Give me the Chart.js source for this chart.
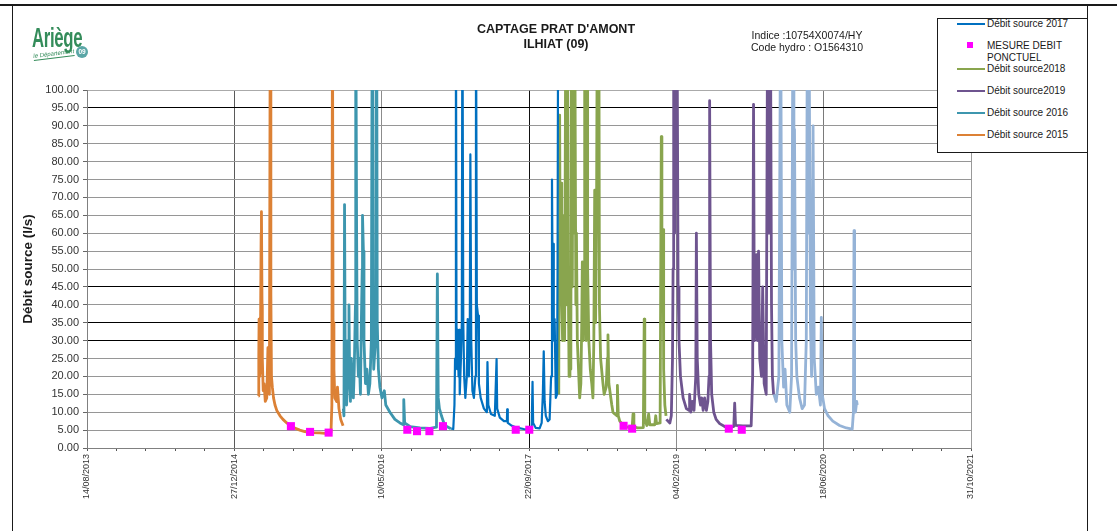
<!DOCTYPE html>
<html lang="fr">
<head>
<meta charset="utf-8">
<title>Captage Prat d'Amont - Ilhiat (09)</title>
<script src="https://cdn.jsdelivr.net/npm/chart.js@4.4.1/dist/chart.umd.min.js"></script>
<style>
  html, body { margin: 0; padding: 0; background: #fff; }
  body { font-family: "Liberation Sans", Arial, sans-serif; color: #1a1a1a; }
  #page { position: relative; width: 1117px; height: 531px; overflow: hidden; }
  #chart { position: absolute; left: 0; top: 0; }
  .frame { position: absolute; background: #1a1a1a; }
  #title { position: absolute; left: 456px; top: 22px; width: 200px; text-align: center;
           font-weight: bold; font-size: 12.5px; line-height: 15px; }
  #ref { position: absolute; left: 732px; top: 29px; width: 150px; text-align: center;
         font-size: 10.5px; line-height: 12px; }
  #legend { position: absolute; left: 937px; top: 18px; width: 149px; height: 133px;
            border: 1px solid #1a1a1a; background: #fff; font-size: 10px; line-height: 12px; }
  #legend .sample { position: absolute; left: 19px; width: 28px; height: 2px; }
  #legend .marker { position: absolute; left: 29px; width: 6px; height: 6px; }
  #legend .text { position: absolute; left: 49px; white-space: nowrap; }
  #logo .ariege { position: absolute; left: 32px; top: 25px; font-size: 27px; line-height: 27px;
                  font-weight: bold; color: #348c5a; transform: scaleX(0.62); transform-origin: left top;
                  letter-spacing: -0.5px; }
  #logo .dept { position: absolute; left: 33px; top: 53px; font-size: 6px; font-style: italic;
                color: #348c5a; transform: rotate(-7deg); transform-origin: left top;
                border-bottom: 1px solid #348c5a; padding-bottom: 1px; }
  #logo .badge { position: absolute; left: 76px; top: 46px; width: 12px; height: 12px; border-radius: 50%;
                 background: #5aa6a6; color: #fff; font-size: 6.5px; font-weight: bold;
                 line-height: 12px; text-align: center; }
</style>
</head>
<body>
<div id="page">
  <canvas id="chart" width="1117" height="531"></canvas>
  <div class="frame" style="left:0;top:4px;width:1117px;height:2px"></div>
  <div class="frame" style="left:12px;top:5px;width:1px;height:526px"></div>
  <div class="frame" style="left:1087px;top:5px;width:1px;height:526px"></div>
  <div id="logo">
    <div class="ariege">Ariège</div>
    <div class="dept">le Département</div>
    <div class="badge">09</div>
  </div>
  <div id="title">CAPTAGE PRAT D'AMONT<br>ILHIAT (09)</div>
  <div id="ref">Indice :10754X0074/HY<br>Code hydro : O1564310</div>
  <div id="legend"></div>
</div>
<script>
// axis
const axisStart = '2013-08-14';
const axisEnd = '2021-10-31';
const tickEveryDays = 100;
const labelEvery = 5;
const yMin = 0, yMax = 100, yStep = 5;

// débit source (l/s), one array pair per year
const dates2015 = ['2015-03-19','2015-03-20','2015-03-21','2015-03-23','2015-03-25','2015-03-28','2015-03-29','2015-03-31',
  '2015-04-01','2015-04-04','2015-04-07','2015-04-11','2015-04-16','2015-04-20','2015-04-23','2015-04-25','2015-04-28',
  '2015-04-30','2015-05-02','2015-05-05','2015-05-09','2015-05-14','2015-05-20','2015-05-31','2015-06-10','2015-06-23',
  '2015-07-07','2015-07-20','2015-08-06','2015-08-23','2015-09-16','2015-10-13','2015-11-09','2015-11-20','2015-11-23',
  '2015-11-25','2015-11-27','2015-11-30','2015-12-03','2015-12-09','2015-12-12','2015-12-17','2015-12-23','2015-12-31'];
const flow2015 = [14.5,26,36,20,22,60,66,40,25,16,18,13,14,28,20,15,130,43,20,17,14,12,10.5,9,8,7,
  6.3,5.6,5.0,4.6,4.3,4.2,4.0,4.3,12,130,35,22,14,13,17,11,8,6.2];

const dates2016 = ['2016-01-01','2016-01-03','2016-01-05','2016-01-07','2016-01-09','2016-01-12','2016-01-15','2016-01-17',
  '2016-01-20','2016-01-22','2016-01-25','2016-01-28','2016-02-01','2016-02-04','2016-02-07','2016-02-11','2016-02-12',
  '2016-02-15','2016-02-17','2016-02-21','2016-02-24','2016-02-28','2016-03-02','2016-03-05','2016-03-06','2016-03-09',
  '2016-03-11','2016-03-16','2016-03-21','2016-03-26','2016-03-31','2016-04-05','2016-04-08','2016-04-10','2016-04-13',
  '2016-04-19','2016-04-23','2016-04-25','2016-04-29','2016-05-04','2016-05-11','2016-05-19','2016-05-24','2016-06-07',
  '2016-06-24','2016-07-11','2016-07-23','2016-07-24','2016-07-27','2016-08-14','2016-09-17','2016-10-21','2016-11-12',
  '2016-11-15','2016-11-18','2016-11-22','2016-11-29','2016-12-07','2016-12-17','2016-12-31'];
const flow2016 = [11,9,68,30,20,12,18,30,40,22,13,25,18,14,22,40,130,60,30,20,25,15,35,50,65,55,30,18,22,15,
  18,30,130,40,22,30,130,35,22,17,14,16,12,10,8,7,6.5,13.5,7,6,5.6,5.5,5.8,48.6,14,11,9,7,6,5.4];

const dates2017 = ['2017-01-01','2017-01-08','2017-01-12','2017-01-14','2017-01-17','2017-01-19','2017-01-21','2017-01-23',
  '2017-01-26','2017-01-28','2017-01-30','2017-02-03','2017-02-06','2017-02-08','2017-02-11','2017-02-14','2017-02-18',
  '2017-02-23','2017-02-26','2017-03-02','2017-03-05','2017-03-07','2017-03-10','2017-03-14','2017-03-19','2017-03-24',
  '2017-03-26','2017-03-29','2017-04-02','2017-04-05','2017-04-11','2017-04-22','2017-05-02','2017-05-04','2017-05-07',
  '2017-05-16','2017-05-29','2017-06-04','2017-06-06','2017-06-15','2017-06-29','2017-07-09','2017-07-10','2017-07-12',
  '2017-07-26','2017-08-15','2017-09-04','2017-09-25','2017-10-01','2017-10-04','2017-10-06','2017-10-15','2017-10-28',
  '2017-11-04','2017-11-08','2017-11-11','2017-11-14','2017-11-18','2017-11-25','2017-12-01','2017-12-06','2017-12-09',
  '2017-12-11','2017-12-13','2017-12-15','2017-12-18','2017-12-22','2017-12-26','2017-12-28','2017-12-30'];
const flow2017 = [5.4,5.3,12,25,130,30,22,33,20,33,15,25,35,130,35,20,14,20,36,20,30,82,30,16,14,20,130,40,37,18,
  14,11,10,24,12,9.5,9,24.8,11,8.5,7.5,7.5,10.8,7,6.2,5.6,5.3,5.1,5.5,18.5,7,5.6,5.5,7,15,27,13,9,7.5,8,
  20,75,48,57,30,36,14,15,50,130];

const dates2018 = ['2018-01-01','2018-01-02','2018-01-04','2018-01-06','2018-01-09','2018-01-11','2018-01-14','2018-01-16',
  '2018-01-19','2018-01-21','2018-01-25','2018-01-27','2018-01-30','2018-02-02','2018-02-05','2018-02-08','2018-02-11',
  '2018-02-13','2018-02-16','2018-02-19','2018-02-22','2018-02-24','2018-02-28','2018-03-02','2018-03-05','2018-03-10',
  '2018-03-13','2018-03-17','2018-03-20','2018-03-22','2018-03-25','2018-03-28','2018-03-30','2018-04-02','2018-04-04',
  '2018-04-07','2018-04-09','2018-04-13','2018-04-18','2018-04-23','2018-04-27','2018-04-30','2018-05-03','2018-05-06',
  '2018-05-09','2018-05-12','2018-05-14','2018-05-17','2018-05-19','2018-05-23','2018-05-31','2018-06-04','2018-06-11',
  '2018-06-15','2018-06-17','2018-06-20','2018-06-25','2018-06-30','2018-07-04','2018-07-10','2018-07-18','2018-07-19',
  '2018-07-22','2018-07-27','2018-08-09','2018-08-23','2018-09-07','2018-09-10','2018-09-13','2018-09-26','2018-10-15',
  '2018-10-18','2018-10-20','2018-10-27','2018-11-02','2018-11-06','2018-11-23','2018-11-26','2018-11-29','2018-12-11',
  '2018-12-15','2018-12-17','2018-12-21','2018-12-23','2018-12-27','2018-12-31'];
const flow2018 = [15,60,93,45,74,40,30,34,65,30,130,40,130,50,20,35,22,130,45,130,60,130,40,60,30,20,14,18,35,52,
  30,50,130,45,30,130,50,30,22,18,14,30,72,35,60,130,70,130,40,25,18,15,17,25,31.6,18,15,12,10,9.5,
  9,17.5,9,7.5,6.3,5.8,5.6,9.5,6,5.6,5.7,36,8,6.3,9.5,6.5,6.5,9,6.8,7,87,45,61,22,12,9];

const dates2019 = ['2019-01-01','2019-01-13','2019-01-18','2019-01-22','2019-01-24','2019-01-26','2019-01-29','2019-02-02',
  '2019-02-04','2019-02-06','2019-02-10','2019-02-13','2019-02-18','2019-02-27','2019-03-10','2019-03-19','2019-03-21',
  '2019-03-25','2019-03-30','2019-04-05','2019-04-11','2019-04-13','2019-04-16','2019-04-21','2019-04-27','2019-05-01',
  '2019-05-06','2019-05-11','2019-05-17','2019-05-22','2019-05-26','2019-05-28','2019-05-31','2019-06-04','2019-06-11',
  '2019-06-19','2019-07-01','2019-07-18','2019-08-10','2019-08-18','2019-08-21','2019-08-24','2019-09-18','2019-10-16',
  '2019-10-21','2019-10-24','2019-10-27','2019-10-31','2019-11-03','2019-11-06','2019-11-10','2019-11-14','2019-11-20',
  '2019-11-24','2019-11-29','2019-12-06','2019-12-11','2019-12-15','2019-12-20','2019-12-24','2019-12-27','2019-12-31'];
const flow2019 = [8,7,9,25,50,130,60,130,70,130,45,30,20,14,11,10.5,15,10,13,10.5,20,60,25,15,12,14,10.5,14,10.5,13,
  20,97,30,15,10,8,6.8,6,5.8,6,12.5,6.3,6.2,6.2,20,96,30,40,54,30,55,25,20,45,18,15,130,60,130,40,20,15];

const dates2020 = ['2020-01-01','2020-01-09','2020-01-18','2020-01-24','2020-01-28','2020-02-03','2020-02-08','2020-02-14',
  '2020-02-24','2020-03-01','2020-03-06','2020-03-09','2020-03-11','2020-03-15','2020-03-19','2020-03-28','2020-04-06',
  '2020-04-14','2020-04-20','2020-04-24','2020-04-27','2020-04-29','2020-05-04','2020-05-08','2020-05-13','2020-05-17',
  '2020-05-24','2020-05-31','2020-06-07','2020-06-10','2020-06-13','2020-06-21','2020-07-03','2020-07-19','2020-08-11',
  '2020-09-03','2020-09-23','2020-09-27','2020-09-29','2020-10-01','2020-10-04','2020-10-08','2020-10-10'];
const flow2020 = [15,13,20,130,30,17,22,12,10,20,130,50,89,30,20,14,11,12,30,130,60,130,35,20,90,25,15,17,12,36.5,
  15,11,9,7.5,6.3,5.6,5.3,10,60.7,12,10,13,12];

// mesures ponctuelles
const measureDates = ['2015-07-07','2015-09-10','2015-11-12','2016-08-05','2016-09-07','2016-10-19','2016-12-04',
  '2017-08-08','2017-09-23','2018-08-09','2018-09-07','2019-08-01','2019-09-14'];
const measureValues = [6.1,4.5,4.3,5.1,4.7,4.7,6.1,5.1,5.1,6.2,5.4,5.4,5.1];

const legendOrder = ['Débit source 2017','MESURE DEBIT PONCTUEL','Débit source2018','Débit source2019',
  'Débit source 2016','Débit source 2015'];

const DAY = 86400000;
const toTime = s => Date.parse(s + 'T00:00:00Z');
const pad2 = n => String(n).padStart(2, '0');
const fmtDate = t => {
  const d = new Date(t);
  return pad2(d.getUTCDate()) + '/' + pad2(d.getUTCMonth() + 1) + '/' + d.getUTCFullYear();
};
const points = (dates, values) => dates.map((d, i) => ({x: toTime(d), y: values[i]}));

function lineSet(label, dates, values, color, width) {
  return {
    label: label,
    data: points(dates, values),
    borderColor: color,
    backgroundColor: color,
    borderWidth: width,
    borderJoinStyle: 'round',
    pointRadius: 0,
    tension: 0,
    order: 1
  };
}

const datasets = [
  {
    label: 'MESURE DEBIT PONCTUEL',
    data: points(measureDates, measureValues),
    showLine: false,
    pointStyle: 'rect',
    pointRadius: 5.7,
    pointBorderWidth: 0,
    backgroundColor: '#ff00ff',
    borderColor: '#ff00ff',
    order: 0
  },
  lineSet('Débit source 2015', dates2015, flow2015, '#dc8135', 2.8),
  lineSet('Débit source 2016', dates2016, flow2016, '#3d96ae', 2.8),
  lineSet('Débit source 2017', dates2017, flow2017, '#0070c0', 2.2),
  lineSet('Débit source2018', dates2018, flow2018, '#89a54e', 2.8),
  lineSet('Débit source2019', dates2019, flow2019, '#6e548f', 2.8),
  lineSet('Débit source 2020', dates2020, flow2020, '#95b3d7', 2.8)
];

Chart.defaults.font.family = "'Liberation Sans', Arial, sans-serif";
Chart.defaults.color = '#333';

const start = toTime(axisStart), end = toTime(axisEnd);
const majorX = ['#808080', '#5a5a5a', '#8c8c8c', '#111', '#8c8c8c', '#7a7a7a', '#999'];
const darkY = [95, 45, 35, 30];

const chart = new Chart(document.getElementById('chart'), {
  type: 'line',
  data: {datasets: datasets},
  options: {
    responsive: false,
    animation: false,
    devicePixelRatio: 1,
    layout: {padding: {left: 12, top: 90, right: 146, bottom: 0}},
    plugins: {legend: {display: false}, tooltip: {enabled: false}, title: {display: false}},
    scales: {
      x: {
        type: 'linear',
        min: start,
        max: end,
        afterBuildTicks: scale => {
          const ticks = [];
          for (let t = start; t <= end; t += tickEveryDays * DAY) ticks.push({value: t});
          scale.ticks = ticks;
        },
        afterFit: scale => { scale.height = 83; },
        ticks: {
          autoSkip: false,
          minRotation: 90,
          maxRotation: 90,
          padding: 3,
          font: {size: 9},
          color: '#333',
          callback: (v, i) => i % labelEvery === 0 ? fmtDate(v) : ''
        },
        grid: {
          color: ctx => ctx.index % labelEvery === 0 ? majorX[ctx.index / labelEvery] : 'rgba(0,0,0,0)',
          tickColor: '#555',
          tickLength: 3
        },
        border: {color: '#808080', width: 1}
      },
      y: {
        min: yMin,
        max: yMax,
        afterFit: scale => { scale.width = 75; },
        ticks: {
          stepSize: yStep,
          padding: 4,
          font: {size: 11},
          color: '#333',
          callback: v => v.toFixed(2)
        },
        grid: {
          color: ctx => darkY.includes(ctx.tick.value) ? '#000' : (ctx.tick.value === yMax ? '#aaa' : '#969696'),
          tickColor: '#666',
          tickLength: 4
        },
        border: {color: '#808080', width: 1},
        title: {
          display: true,
          text: 'Débit source (l/s)',
          color: '#1a1a1a',
          font: {size: 13.5, weight: 'bold'},
          padding: {top: 8, bottom: 0}
        }
      }
    }
  }
});

// legend box, built from the datasets
const legendBox = document.getElementById('legend');
const centers = [5, 26, 50, 72, 94, 116];
legendOrder.forEach((name, i) => {
  const ds = chart.data.datasets.find(d => d.label === name);
  const c = centers[i];
  if (ds.showLine === false) {
    const m = document.createElement('div');
    m.className = 'marker';
    m.style.top = (c - 3) + 'px';
    m.style.background = ds.backgroundColor;
    legendBox.appendChild(m);
    const t = document.createElement('div');
    t.className = 'text';
    t.style.top = (c - 5) + 'px';
    t.innerHTML = 'MESURE DEBIT<br>PONCTUEL';
    legendBox.appendChild(t);
  } else {
    const s = document.createElement('div');
    s.className = 'sample';
    s.style.top = (c - 1) + 'px';
    s.style.background = ds.borderColor;
    legendBox.appendChild(s);
    const t = document.createElement('div');
    t.className = 'text';
    t.style.top = (c - 6) + 'px';
    t.textContent = name;
    legendBox.appendChild(t);
  }
});
</script>
</body>
</html>
